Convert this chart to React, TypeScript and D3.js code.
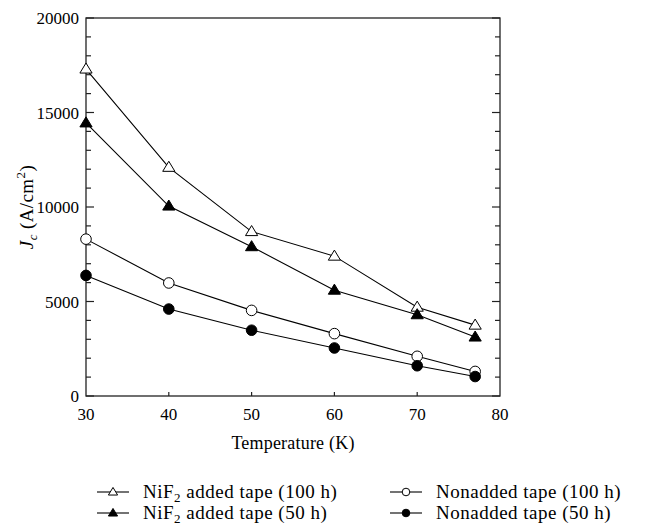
import * as d3 from 'd3';
import React, { useEffect, useRef } from 'react';

const temps = [30, 40, 50, 60, 70, 77];
const nif2_100h = [17300, 12100, 8700, 7400, 4700, 3750];
const nif2_50h = [14450, 10050, 7900, 5600, 4300, 3120];
const non_100h = [8300, 5980, 4530, 3300, 2100, 1300];
const non_50h = [6380, 4600, 3480, 2540, 1600, 1030];

const xTicks = [30, 40, 50, 60, 70, 80];
const yTicks = [0, 5000, 10000, 15000, 20000];

const seriesList = [
    { name: 'NiF2 added tape (100 h)', values: nif2_100h, shape: 'triangle', filled: false },
    { name: 'NiF2 added tape (50 h)', values: nif2_50h, shape: 'triangle', filled: true },
    { name: 'Nonadded tape (100 h)', values: non_100h, shape: 'circle', filled: false },
    { name: 'Nonadded tape (50 h)', values: non_50h, shape: 'circle', filled: true },
];

const FONT = 'Liberation Serif, Times New Roman, DejaVu Serif, serif';

function drawMarker(g, shape, filled, cx, cy, size) {
    if (shape === 'circle') {
        g.append('circle')
            .attr('cx', cx).attr('cy', cy).attr('r', size)
            .attr('fill', filled ? '#000' : '#fff')
            .attr('stroke', '#000').attr('stroke-width', 1);
    } else {
        const h = size * 1.9;
        const w = size * 1.15;
        g.append('path')
            .attr('d', `M${cx},${cy - h * 0.6}L${cx + w},${cy + h * 0.4}L${cx - w},${cy + h * 0.4}Z`)
            .attr('fill', filled ? '#000' : '#fff')
            .attr('stroke', '#000').attr('stroke-width', 1);
    }
}

function Chart() {
    const ref = useRef(null);

    useEffect(() => {
        const svg = d3.select(ref.current);
        svg.selectAll('*').remove();
        svg.style('font-family', FONT);

        const left = 86, right = 500, top = 18, bottom = 396;

        const x = d3.scaleLinear().domain([30, 80]).range([left, right]);
        const y = d3.scaleLinear().domain([0, 20000]).range([bottom, top]);

        // frame
        svg.append('rect')
            .attr('x', left).attr('y', top)
            .attr('width', right - left).attr('height', bottom - top)
            .attr('fill', 'none').attr('stroke', '#222').attr('stroke-width', 1.3);

        // y ticks (inward, both sides)
        const minor = d3.range(0, 20001, 1000);
        minor.forEach(v => {
            const major = v % 5000 === 0;
            const len = major ? 8 : 5;
            svg.append('line')
                .attr('x1', left).attr('x2', left + len)
                .attr('y1', y(v)).attr('y2', y(v))
                .attr('stroke', '#222').attr('stroke-width', 1.2);
            svg.append('line')
                .attr('x1', right).attr('x2', right - len)
                .attr('y1', y(v)).attr('y2', y(v))
                .attr('stroke', '#222').attr('stroke-width', 1.2);
        });

        yTicks.forEach(v => {
            svg.append('text')
                .attr('x', left - 7).attr('y', y(v) + 6)
                .attr('text-anchor', 'end')
                .style('font-size', '17px')
                .text(v);
        });

        // x ticks (inward at bottom)
        xTicks.forEach(v => {
            if (v !== 30 && v !== 80) {
                svg.append('line')
                    .attr('x1', x(v)).attr('x2', x(v))
                    .attr('y1', bottom).attr('y2', bottom - 4)
                    .attr('stroke', '#222').attr('stroke-width', 1.2);
            }
            svg.append('text')
                .attr('x', x(v)).attr('y', bottom + 24)
                .attr('text-anchor', 'middle')
                .style('font-size', '17px')
                .text(v);
        });

        // axis labels
        svg.append('text')
            .attr('x', (left + right) / 2).attr('y', 449)
            .attr('text-anchor', 'middle')
            .style('font-size', '18px')
            .style('letter-spacing', '0.2px')
            .text('Temperature (K)');

        const yl = svg.append('text')
            .attr('transform', `translate(33,${(top + bottom) / 2}) rotate(-90)`)
            .attr('text-anchor', 'middle')
            .style('font-size', '19px')
            .style('letter-spacing', '0.4px');
        yl.append('tspan').style('font-style', 'italic').text('J');
        yl.append('tspan').style('font-style', 'italic').style('font-size', '13px').attr('dy', 4).text('c');
        yl.append('tspan').attr('dy', -4).text(' (A/cm');
        yl.append('tspan').style('font-size', '13px').attr('dy', -8).text('2');
        yl.append('tspan').attr('dy', 8).text(')');

        // series
        const line = d3.line().x(d => x(d[0])).y(d => y(d[1]));
        seriesList.forEach(s => {
            const pts = temps.map((t, i) => [t, s.values[i]]);
            svg.append('path')
                .attr('d', line(pts))
                .attr('fill', 'none').attr('stroke', '#000').attr('stroke-width', 1.1);
            const mg = svg.append('g');
            pts.forEach(p => drawMarker(mg, s.shape, s.filled, x(p[0]), y(p[1]), 5.3));
        });

        // legend
        const legendPos = [
            { lx: 97, tx: 143, ty: 498 },
            { lx: 97, tx: 143, ty: 519 },
            { lx: 390, tx: 436, ty: 498 },
            { lx: 390, tx: 436, ty: 519 },
        ];
        seriesList.forEach((s, i) => {
            const p = legendPos[i];
            const cy = p.ty - 6;
            svg.append('line')
                .attr('x1', p.lx).attr('x2', p.lx + 32)
                .attr('y1', cy).attr('y2', cy)
                .attr('stroke', '#000').attr('stroke-width', 1.1);
            drawMarker(svg, s.shape, s.filled, p.lx + 16, cy, s.shape === 'circle' ? 3.8 : 4);
            const t = svg.append('text')
                .attr('x', p.tx).attr('y', p.ty)
                .style('font-size', '19px')
                .style('letter-spacing', '0.5px');
            if (s.name.startsWith('NiF2')) {
                t.append('tspan').text('NiF');
                t.append('tspan').style('font-size', '13px').attr('dy', 4).text('2');
                t.append('tspan').attr('dy', -4).text(s.name.slice(4));
            } else {
                t.text(s.name);
            }
        });
    }, []);

    return (
        <svg ref={ref} width={662} height={530}
            style={{ position: 'absolute', left: 0, top: 0, display: 'block' }}></svg>
    );
}

export default function App() {
    return <Chart />;
}
